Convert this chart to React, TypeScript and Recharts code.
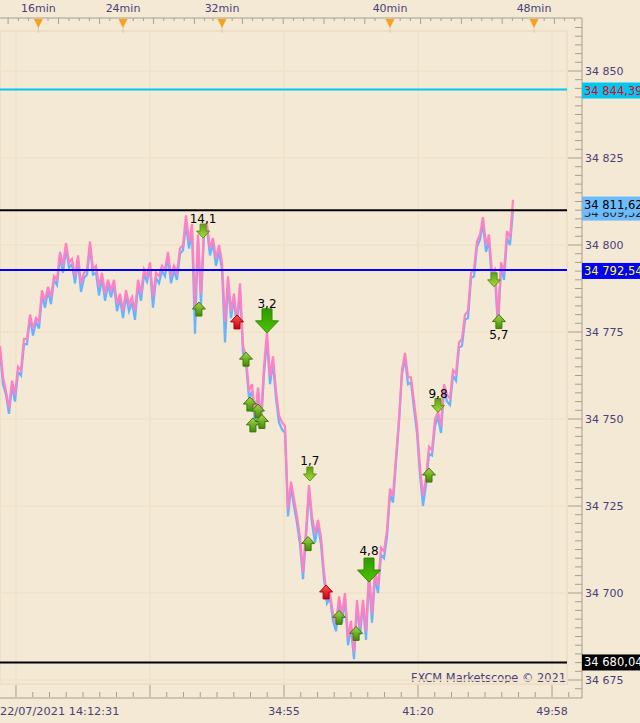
import { ComposedChart, Line, XAxis, YAxis, ReferenceLine, ReferenceDot, ReferenceArea } from 'recharts';

// x is a bar index, one bar = 3px on the 582px wide plot
const pinkPrices = [
  34771, 34762, 34758, 34753, 34761, 34757, 34765, 34764, 34773, 34773,
  34780, 34776, 34779, 34778, 34787, 34784, 34788, 34785, 34791, 34790,
  34798, 34794, 34800.5, 34795, 34796, 34791, 34797, 34789, 34792, 34793,
  34801, 34793, 34794, 34788, 34792, 34786, 34790, 34787, 34790, 34783,
  34786, 34781, 34787, 34783, 34785, 34781, 34790, 34786, 34793, 34791,
  34795, 34785, 34792, 34791, 34794, 34793, 34798, 34791, 34794, 34792,
  34799, 34800, 34808.5, 34801, 34806, 34782, 34803, 34786, 34805, 34806,
  34799, 34802, 34796, 34800, 34795, 34778, 34791, 34781, 34786, 34778,
  34789, 34771, 34768, 34758, 34760, 34751, 34759, 34750, 34765, 34775,
  34762, 34768, 34758, 34751, 34749, 34748, 34724, 34732, 34727, 34722,
  34716, 34706, 34718, 34731, 34722, 34717, 34721, 34716, 34706, 34699,
  34700, 34694, 34691, 34699, 34694, 34700, 34687, 34692, 34683, 34698,
  34690, 34698, 34689, 34706, 34694, 34706, 34702, 34713, 34712, 34718,
  34730, 34728, 34739, 34750, 34764, 34769, 34762, 34762, 34755, 34748,
  34736, 34728, 34733, 34742, 34741, 34750, 34752, 34748, 34760, 34757,
  34756, 34764, 34763, 34772, 34773, 34780, 34781, 34792, 34793, 34801,
  34803, 34808, 34800, 34803, 34792, 34793, 34778, 34795, 34792, 34804,
  34802, 34813,
];

const bluePrices = [
  34769.5, 34760, 34757, 34751.5, 34759.5, 34755, 34763.5, 34762.5, 34771.5, 34771.5,
  34779, 34774, 34778, 34776, 34785.5, 34782, 34787, 34783, 34790, 34788.5,
  34796.5, 34792, 34799, 34793.5, 34794.5, 34789, 34795.5, 34786.5, 34790.5, 34791.5,
  34799.5, 34791.5, 34792, 34785.5, 34790.5, 34784, 34788.5, 34785, 34788.5, 34781,
  34784.5, 34779, 34785.5, 34781, 34783.5, 34778.5, 34788.5, 34784, 34791.5, 34789.5,
  34793.5, 34782, 34790.5, 34789, 34792.5, 34791, 34796.5, 34789, 34792.5, 34790,
  34797.5, 34798.5, 34806, 34799, 34804, 34774.5, 34801.5, 34783, 34803.5, 34804.5,
  34797, 34800.5, 34794, 34798, 34793, 34772, 34789, 34779, 34784.5, 34776,
  34787, 34769, 34766, 34756, 34758, 34749, 34757.5, 34748, 34763, 34773,
  34760, 34766, 34756, 34749, 34747, 34746, 34722, 34730.5, 34725, 34720,
  34714, 34704, 34716, 34729.5, 34720, 34714.5, 34719.5, 34714, 34704, 34697,
  34698.5, 34692, 34689, 34697, 34691.5, 34698.5, 34685, 34690, 34681, 34696.5,
  34688, 34696.5, 34686.5, 34704.5, 34691.5, 34704.5, 34700, 34711, 34710, 34716,
  34728.5, 34726, 34737.5, 34749, 34763, 34767.5, 34760, 34760.5, 34753, 34746,
  34734, 34725, 34731, 34740, 34739.5, 34748, 34750.5, 34746, 34758.5, 34755,
  34754, 34762.5, 34761, 34770.5, 34771, 34778.5, 34779, 34790.5, 34791, 34799.5,
  34801.5, 34806, 34798, 34801, 34789.5, 34791, 34776, 34793.5, 34790, 34802,
  34800, 34810,
];

const chartData = pinkPrices.map((pink, i) => ({ i, pink, blue: bluePrices[i] }));

const upArrows = [
  [66.3, 34781.6], [82, 34767.2], [83.3, 34754.3], [86, 34752.3], [84.3, 34748.3], [87.3, 34749.3],
  [102.7, 34714.2], [113, 34693], [118.7, 34688.4], [143, 34733.9], [166.3, 34778],
];
const downArrows = [[67.7, 34804], [103.3, 34734.2], [146, 34753.9], [164.7, 34790]];
const redArrows = [[79, 34777.9], [108.7, 34700.3]];
const bigArrows = [[89, 34778.2], [123, 34706.6]];
const markLabels = [
  { x: 67.7, y: 34806.3, text: '14,1' },
  { x: 89, y: 34781.9, text: '3,2' },
  { x: 103.3, y: 34736.9, text: '1,7' },
  { x: 123, y: 34710.8, text: '4,8' },
  { x: 146, y: 34756.1, text: '9,8' },
  { x: 166.3, y: 34773.1, text: '5,7' },
];

const levelLines = [
  { value: 34844.7, color: '#00c8f0' },
  { value: 34810, color: '#000000' },
  { value: 34792.8, color: '#0000ff' },
  { value: 34680.04, color: '#000000' },
];
const levelTags = [
  { value: 34844.39, text: '34 844,39', bg: '#00c8f0', fg: '#e8001c' },
  { value: 34809.32, text: '34 809,32', bg: '#6cbcfc', fg: '#222222' },
  { value: 34811.62, text: '34 811,62', bg: '#6cbcfc', fg: '#000000' },
  { value: 34792.54, text: '34 792,54', bg: '#0000ff', fg: '#ffff00' },
  { value: 34680.04, text: '34 680,04', bg: '#000000', fg: '#ffffff' },
];

const priceTicks = [
  34862.5, 34860, 34857.5, 34855, 34852.5, 34850, 34847.5, 34845, 34842.5, 34840, 34837.5, 34835, 34832.5, 34830, 34827.5,
  34825, 34822.5, 34820, 34817.5, 34815, 34812.5, 34810, 34807.5, 34805, 34802.5, 34800, 34797.5, 34795, 34792.5, 34790, 34787.5, 34785, 34782.5,
  34780, 34777.5, 34775, 34772.5, 34770, 34767.5, 34765, 34762.5, 34760, 34757.5, 34755, 34752.5, 34750, 34747.5, 34745, 34742.5, 34740, 34737.5,
  34735, 34732.5, 34730, 34727.5, 34725, 34722.5, 34720, 34717.5, 34715, 34712.5, 34710, 34707.5, 34705, 34702.5, 34700, 34697.5, 34695, 34692.5,
  34690, 34687.5, 34685, 34682.5, 34680, 34677.5, 34675, 34672.5,
];
const priceGrid = [34850, 34825, 34800, 34775, 34750, 34725, 34700, 34675];

const timeGrid = [5.33, 50, 94.67, 139.33, 184];
const timeLabels = [
  { x: 94.67, text: '34:55' },
  { x: 139.33, text: '41:20' },
  { x: 184, text: '49:58' },
];
const bottomTicks = [
  5.33, 10.92, 16.5, 22.08, 27.67, 33.25, 38.83, 44.42, 50, 55.58, 61.17, 66.75, 72.33, 77.92, 83.5, 89.08,
  94.67, 100.25, 105.83, 111.42, 117, 122.58, 128.17, 133.75, 139.33, 144.92, 150.5, 156.08, 161.67, 167.25, 172.83, 178.42, 184, 189.58,
];
const sessionMarks = [
  { x: 12.8, text: '16min' },
  { x: 41, text: '24min' },
  { x: 74, text: '32min' },
  { x: 130, text: '40min' },
  { x: 178, text: '48min' },
];
const topTicks = [
  2.7, 6.1, 9.5, 16, 19.5, 23, 26.4, 29.8, 33.2, 36.6, 44.4, 47.8, 51.2, 54.6, 58, 61.4, 64.8, 68.2, 71, 77.4, 80.8, 84.2, 87.6, 91, 94.4, 97.8,
  101.2, 104.6, 108, 111.4, 114.8, 118.2, 121.6, 125, 133.4, 136.8, 140.2, 143.6, 147, 150.4, 153.8, 157.2, 160.6, 164, 167.4, 170.8, 174.2,
  181.4, 184.8, 188.2, 191.6,
];

const FONT = '"DejaVu Sans", sans-serif';
const INK = '#4a3f78';

function TopTick({ x, payload }: any) {
  const mark = sessionMarks.find((m) => m.x === payload.value);
  if (mark) {
    return (
      <g>
        <line x1={x} x2={x} y1={27} y2={33} stroke="#d8ccb4" />
        <polygon points={`${x - 4.5},19 ${x + 4.5},19 ${x},28`} fill="#f5a21e" />
        <text x={x} y={12} textAnchor="middle" fontSize={11} fontFamily={FONT} fill={INK}>{mark.text}</text>
      </g>
    );
  }
  return <line x1={x} x2={x} y1={18} y2={payload.index % 4 === 0 ? 24 : 21} stroke="#a89f8c" />;
}

function BottomTick({ x, payload }: any) {
  const major = timeGrid.includes(payload.value);
  const label = timeLabels.find((l) => l.x === payload.value);
  return (
    <g>
      <line x1={x} x2={x} y1={697} y2={major ? 685 : 692} stroke="#a89f8c" />
      {label && <text x={x} y={715} textAnchor="middle" fontSize={11} fontFamily={FONT} fill={INK}>{label.text}</text>}
    </g>
  );
}

function PriceTick({ x, y, payload }: any) {
  const major = payload.value % 25 === 0;
  const text = String(payload.value);
  return (
    <g>
      <line x1={x - (major ? 14 : 7)} x2={x} y1={y} y2={y} stroke="#a89f8c" />
      {major && (
        <text x={x + 3} y={y + 4} fontSize={11} fontFamily={FONT} fill={INK}>{text.slice(0, 2) + ' ' + text.slice(2)}</text>
      )}
    </g>
  );
}

function arrowShape(kind: string) {
  return ({ cx, cy }: any) => {
    if (kind === 'big') {
      return <polygon points={`${cx - 5},${cy - 12} ${cx + 5},${cy - 12} ${cx + 5},${cy} ${cx + 11.5},${cy} ${cx},${cy + 12} ${cx - 11.5},${cy} ${cx - 5},${cy}`} fill="url(#bigGreen)" stroke="#2f8a00" />;
    }
    if (kind === 'down') {
      return <polygon points={`${cx - 3},${cy - 7} ${cx + 3},${cy - 7} ${cx + 3},${cy} ${cx + 6.5},${cy} ${cx},${cy + 7} ${cx - 6.5},${cy} ${cx - 3},${cy}`} fill="url(#downGreen)" stroke="#5c9410" />;
    }
    const fill = kind === 'red' ? 'url(#upRed)' : 'url(#upGreen)';
    const stroke = kind === 'red' ? '#b00010' : '#3d7a08';
    return <polygon points={`${cx},${cy - 7} ${cx + 6.5},${cy} ${cx + 3},${cy} ${cx + 3},${cy + 7} ${cx - 3},${cy + 7} ${cx - 3},${cy} ${cx - 6.5},${cy}`} fill={fill} stroke={stroke} />;
  };
}

function tagShape(tag: any) {
  return ({ cx, cy }: any) => (
    <g>
      <rect x={cx} y={cy - 8} width={58} height={16} fill={tag.bg} />
      <text x={cx + 2} y={cy + 4} fontSize={11.5} fontFamily={FONT} fill={tag.fg}>{tag.text}</text>
    </g>
  );
}

function labelShape(text: string) {
  return ({ cx, cy }: any) => (
    <text x={cx} y={cy} textAnchor="middle" fontSize={12} fontFamily={FONT} fill="#000000">{text}</text>
  );
}

export default function App() {
  return (
    <div style={{ position: 'absolute', left: 0, top: 0, width: 640, height: 723, background: '#f3e9d5', overflow: 'hidden' }}>
      <ComposedChart width={640} height={723} data={chartData} margin={{ top: 0, right: 0, bottom: 0, left: 0 }}>
        <defs>
          <linearGradient id="upGreen" x1="0" y1="0" x2="0" y2="1">
            <stop offset="0%" stopColor="#a6d648" />
            <stop offset="100%" stopColor="#3f8a08" />
          </linearGradient>
          <linearGradient id="downGreen" x1="0" y1="0" x2="0" y2="1">
            <stop offset="0%" stopColor="#5f9e12" />
            <stop offset="100%" stopColor="#a8dc40" />
          </linearGradient>
          <linearGradient id="upRed" x1="0" y1="0" x2="0" y2="1">
            <stop offset="0%" stopColor="#ff5a50" />
            <stop offset="100%" stopColor="#c00010" />
          </linearGradient>
          <linearGradient id="bigGreen" x1="0" y1="0" x2="0" y2="1">
            <stop offset="0%" stopColor="#2f9a00" />
            <stop offset="100%" stopColor="#4cc400" />
          </linearGradient>
        </defs>
        <XAxis
          xAxisId="main"
          dataKey="i"
          type="number"
          domain={[0, 194]}
          ticks={bottomTicks}
          interval={0}
          height={25}
          tickSize={0}
          tickMargin={0}
          tick={BottomTick}
          axisLine={{ stroke: '#a89f8c' }}
          allowDataOverflow
        />
        <XAxis
          xAxisId="top"
          orientation="top"
          dataKey="i"
          type="number"
          domain={[0, 194]}
          ticks={[...topTicks, ...sessionMarks.map((m) => m.x)]}
          interval={0}
          height={18}
          tickSize={0}
          tickMargin={0}
          tick={TopTick}
          axisLine={{ stroke: '#a89f8c' }}
          allowDataOverflow
        />
        <YAxis
          orientation="right"
          type="number"
          domain={[34669.83, 34865.23]}
          ticks={priceTicks}
          interval={0}
          width={58}
          tickSize={0}
          tickMargin={0}
          tick={PriceTick}
          axisLine={{ stroke: '#a89f8c' }}
          allowDataOverflow
        />

        <ReferenceArea xAxisId="main" x1={0} x2={189} y1={34673.85} y2={34861.5} fill="none" stroke="#f0dfc4" strokeWidth={2} />
        {priceGrid.map((v) => (
          <ReferenceLine key={v} xAxisId="main" segment={[{ x: 0, y: v }, { x: 189, y: v }]} stroke="#f2e2c8" strokeWidth={1.5} />
        ))}
        {timeGrid.map((v) => (
          <ReferenceLine key={v} xAxisId="main" segment={[{ x: v, y: 34673.85 }, { x: v, y: 34861.5 }]} stroke="#f2e2c8" strokeWidth={1.5} />
        ))}

        <Line xAxisId="main" dataKey="blue" type="linear" stroke="#66b4ff" strokeWidth={2.2} dot={false} isAnimationActive={false} />
        <Line xAxisId="main" dataKey="pink" type="linear" stroke="#ff80c4" strokeWidth={2.2} dot={false} isAnimationActive={false} />

        {levelLines.map((l) => (
          <ReferenceLine key={l.value} xAxisId="main" segment={[{ x: 0, y: l.value }, { x: 189, y: l.value }]} stroke={l.color} strokeWidth={2} />
        ))}
        {levelTags.map((t) => (
          <ReferenceDot key={t.text} xAxisId="main" x={194} y={t.value} r={0} ifOverflow="visible" shape={tagShape(t)} />
        ))}

        {upArrows.map(([x, y]) => (
          <ReferenceDot key={`u${x}`} xAxisId="main" x={x} y={y} r={0} shape={arrowShape('up')} />
        ))}
        {downArrows.map(([x, y]) => (
          <ReferenceDot key={`d${x}`} xAxisId="main" x={x} y={y} r={0} shape={arrowShape('down')} />
        ))}
        {redArrows.map(([x, y]) => (
          <ReferenceDot key={`r${x}`} xAxisId="main" x={x} y={y} r={0} shape={arrowShape('red')} />
        ))}
        {bigArrows.map(([x, y]) => (
          <ReferenceDot key={`b${x}`} xAxisId="main" x={x} y={y} r={0} shape={arrowShape('big')} />
        ))}
        {markLabels.map((m) => (
          <ReferenceDot key={m.text} xAxisId="main" x={m.x} y={m.y} r={0} shape={labelShape(m.text)} />
        ))}

        <text x={0} y={715} fontSize={11.3} fontFamily={FONT} fill={INK}>22/07/2021 14:12:31</text>
        <text x={566} y={682} textAnchor="end" fontSize={11.4} fontFamily={FONT} fill={INK}>FXCM Marketscope © 2021</text>
      </ComposedChart>
    </div>
  );
}
